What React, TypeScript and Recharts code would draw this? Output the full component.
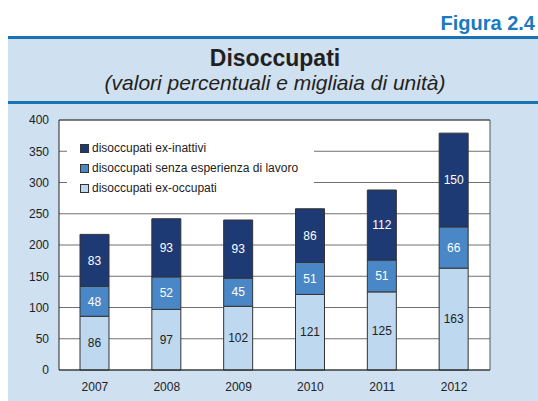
import { BarChart, Bar, XAxis, YAxis, CartesianGrid, Legend, LabelList, ReferenceLine } from 'recharts';

const years = ['2007', '2008', '2009', '2010', '2011', '2012'];
const exOccupati = [86, 97, 102, 121, 125, 163];
const senzaEsperienza = [48, 52, 45, 51, 51, 66];
const exInattivi = [83, 93, 93, 86, 112, 150];
const yTicks = [0, 50, 100, 150, 200, 250, 300, 350, 400];

const legendItems = [
  { label: 'disoccupati ex-inattivi', color: '#1e3a75' },
  { label: 'disoccupati senza esperienza di lavoro', color: '#4a87c6' },
  { label: 'disoccupati ex-occupati', color: '#bed8f0' },
];

const FONT = '"Liberation Sans", Arial, Helvetica, sans-serif';

const data = years.map((year, i) => ({
  year,
  exOccupati: exOccupati[i],
  senzaEsperienza: senzaEsperienza[i],
  exInattivi: exInattivi[i],
}));

function LegendBox() {
  return (
    <div style={{ width: 247, height: 78, background: '#fff', paddingTop: 16, paddingLeft: 13, boxSizing: 'border-box' }}>
      {legendItems.map((it) => (
        <div key={it.label} style={{ display: 'flex', alignItems: 'center', height: 20, fontSize: 12, color: '#222', fontFamily: FONT }}>
          <span style={{ width: 7, height: 7, background: it.color, border: '1px solid #333', marginRight: 3 }} />
          {it.label}
        </div>
      ))}
    </div>
  );
}

export default function App() {
  const tick = { fill: '#222', fontSize: 12, fontFamily: FONT };
  return (
    <div style={{ position: 'absolute', left: 0, top: 0, width: 538, height: 401, overflow: 'hidden', fontFamily: FONT }}>
      <div style={{ position: 'absolute', left: 8, top: 39, width: 530, height: 362, background: '#cfe0f1' }} />
      <div style={{ position: 'absolute', left: 8, top: 36, width: 530, height: 3, background: '#1a73b5' }} />
      <div style={{ position: 'absolute', left: 8, top: 101, width: 530, height: 3, background: '#1a73b5' }} />
      <div style={{ position: 'absolute', right: 3, top: 13, fontSize: 20, lineHeight: '20px', fontWeight: 'bold', color: '#1a7abf' }}>
        Figura 2.4
      </div>
      <div style={{ position: 'absolute', left: 12, width: 526, top: 47, textAlign: 'center', fontSize: 23, lineHeight: '23px', fontWeight: 'bold', color: '#231f20' }}>
        Disoccupati
      </div>
      <div style={{ position: 'absolute', left: 12, width: 526, top: 72, textAlign: 'center', fontSize: 21, lineHeight: '21px', fontStyle: 'italic', color: '#231f20' }}>
        (valori percentuali e migliaia di unità)
      </div>
      <div style={{ position: 'absolute', left: 0, top: 0 }}>
        <BarChart width={538} height={401} data={data} margin={{ top: 120, right: 8, left: 9, bottom: 11 }}>
          <CartesianGrid yAxisId="left" vertical={false} stroke="#707070" fill="#fff" fillOpacity={1} />
          <XAxis
            dataKey="year"
            height={20}
            tickLine={false}
            axisLine={{ stroke: '#222' }}
            tick={tick}
            tickMargin={6}
          />
          <YAxis
            yAxisId="left"
            width={50}
            domain={[0, 400]}
            ticks={yTicks}
            interval={0}
            tickLine={false}
            axisLine={{ stroke: '#222' }}
            tick={tick}
            tickMargin={4}
          />
          <YAxis
            yAxisId="right"
            orientation="right"
            width={40}
            domain={[0, 400]}
            ticks={yTicks}
            interval={0}
            tickLine={false}
            axisLine={{ stroke: '#555' }}
            tick={tick}
            tickMargin={3}
          />
          <ReferenceLine yAxisId="left" y={400} stroke="#444" />
          <Legend
            layout="horizontal"
            verticalAlign="middle"
            align="center"
            wrapperStyle={{ left: 67, top: 122, width: 247, height: 78 }}
            content={() => <LegendBox />}
          />
          <Bar yAxisId="left" dataKey="exOccupati" stackId="a" barSize={29} fill="#bed8f0" stroke="#333" strokeWidth={1} isAnimationActive={false}>
            <LabelList dataKey="exOccupati" position="center" fill="#222" fontSize={12} fontFamily={FONT} />
          </Bar>
          <Bar yAxisId="left" dataKey="senzaEsperienza" stackId="a" barSize={29} fill="#4a87c6" stroke="#333" strokeWidth={1} isAnimationActive={false}>
            <LabelList dataKey="senzaEsperienza" position="center" fill="#fff" fontSize={12} fontFamily={FONT} />
          </Bar>
          <Bar yAxisId="left" dataKey="exInattivi" stackId="a" barSize={29} fill="#1e3a75" stroke="#333" strokeWidth={1} isAnimationActive={false}>
            <LabelList dataKey="exInattivi" position="center" fill="#fff" fontSize={12} fontFamily={FONT} />
          </Bar>
        </BarChart>
      </div>
    </div>
  );
}
